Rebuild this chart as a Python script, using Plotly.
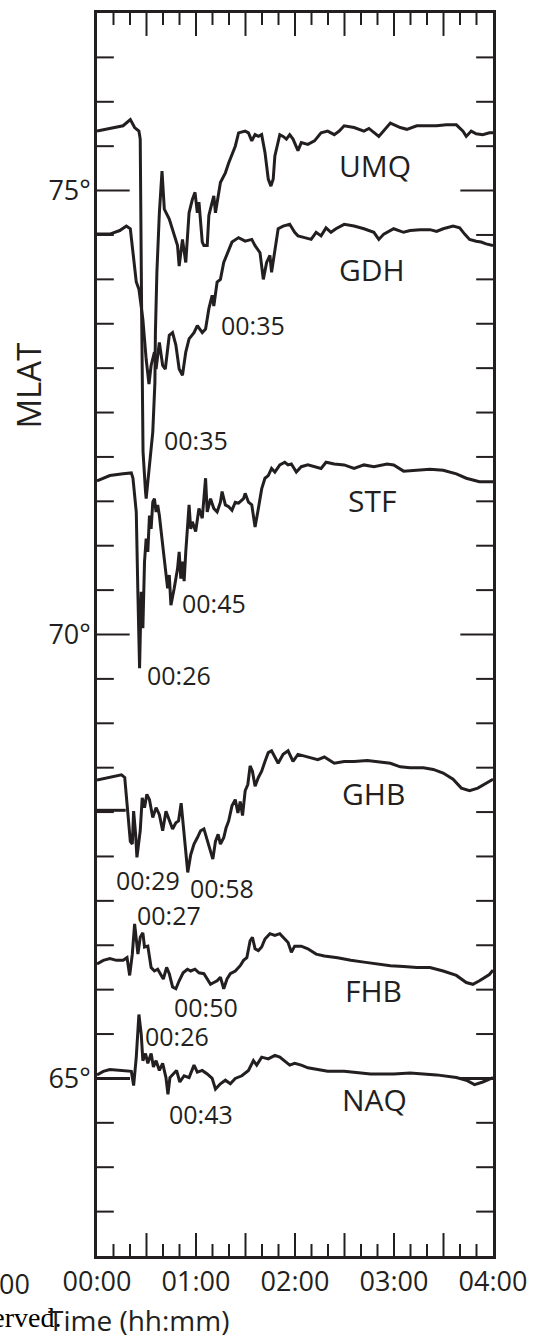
import plotly.graph_objects as go

# ---------------- data (time in minutes after 00:00, MLAT in degrees) ----------------
UMQ_t = [0, 7.8, 15.8, 20.2, 22.8, 25.4, 26.2, 27.0, 27.9, 29.4, 29.8, 30.8, 31.8, 33.8, 35.1, 35.4, 36.3, 37.8, 39.4,
         40.8, 43.8, 45.8, 48.8, 49.8, 51.8, 53.8, 55.8, 57.8, 59.4, 60.8, 61.8, 63.8, 64.8, 66.8, 67.8, 69.8, 70.8,
         71.8, 74.8, 77.8, 79.8, 83.8, 85.8, 89.8, 91.8, 93.8, 95.8, 97.8, 99.8, 101.8, 103.8, 105.4, 106.8, 107.8,
         110.8, 112.8, 114.8, 116.8, 118.8, 121.8, 123.8, 127.8, 131.8, 135.8, 139.8, 143.8, 146.8, 149.8, 155.8,
         161.8, 164.8, 170.8, 177.8, 183.8, 187.8, 193.8, 199.8, 205.8, 211.8, 217.8, 221.8, 223.8, 226.8, 229.8,
         233.8, 237.8, 240]
UMQ_lat = [75.67, 75.70, 75.73, 75.80, 75.71, 75.67, 75.58, 73.74, 72.06, 71.61, 71.53, 71.72, 71.94, 72.28, 72.84,
           73.40, 74.08, 74.75, 75.22, 74.79, 74.68, 74.57, 74.38, 74.15, 74.45, 74.19, 74.75, 74.90, 74.98, 74.75,
           74.87, 74.42, 74.38, 74.38, 74.72, 74.87, 74.94, 74.75, 75.09, 75.20, 75.31, 75.50, 75.65, 75.67, 75.65,
           75.56, 75.63, 75.61, 75.63, 75.43, 75.13, 75.05, 75.13, 75.39, 75.63, 75.61, 75.58, 75.63, 75.58, 75.45,
           75.54, 75.52, 75.56, 75.65, 75.67, 75.63, 75.67, 75.73, 75.71, 75.67, 75.70, 75.61, 75.76, 75.71, 75.69,
           75.73, 75.73, 75.73, 75.74, 75.74, 75.67, 75.61, 75.67, 75.64, 75.63, 75.65, 75.65]

GDH_t = [0, 7.8, 13.8, 17.8, 20.2, 21.8, 22.8, 23.8, 25.4, 27.8, 29.8, 31.5, 32.8, 34.8, 35.8, 37.8, 39.8, 41.4, 43.8,
         45.8, 47.8, 49.8, 51.8, 53.8, 55.8, 58.8, 60.8, 63.8, 65.8, 67.8, 69.8, 70.8, 72.8, 74.8, 76.8, 79.8, 81.8,
         85.8, 89.8, 93.8, 95.8, 98.8, 100.8, 102.8, 104.8, 105.8, 107.8, 109.8, 112.8, 116.8, 119.8, 121.8, 125.8,
         129.8, 132.8, 135.8, 138.8, 141.8, 144.8, 149.8, 155.8, 161.8, 167.8, 170.8, 173.8, 179.8, 185.8, 189.8,
         195.8, 201.8, 205.8, 209.8, 215.8, 219.8, 222.8, 225.8, 229.8, 232.8, 235.8, 240]
GDH_lat = [74.51, 74.51, 74.55, 74.60, 74.57, 74.30, 74.08, 73.97, 73.89, 73.55, 73.10, 72.82, 73.03, 73.18, 72.99,
           73.29, 73.03, 72.99, 73.37, 73.40, 73.26, 72.99, 72.92, 73.18, 73.33, 73.40, 73.48, 73.40, 73.44, 73.67,
           73.82, 73.70, 73.97, 74.00, 74.19, 74.34, 74.42, 74.47, 74.43, 74.45, 74.38, 74.30, 74.00, 74.19, 74.27,
           74.08, 74.34, 74.57, 74.60, 74.62, 74.53, 74.49, 74.47, 74.45, 74.53, 74.49, 74.58, 74.53, 74.57, 74.62,
           74.60, 74.57, 74.53, 74.45, 74.51, 74.57, 74.53, 74.55, 74.56, 74.56, 74.54, 74.57, 74.60, 74.58, 74.51,
           74.45, 74.43, 74.42, 74.40, 74.38]

STF_t = [0, 7.8, 15.8, 20.8, 21.8, 23.8, 24.8, 25.8, 26.8, 27.8, 28.8, 29.8, 30.8, 31.8, 32.8, 33.8, 34.8, 35.8, 36.8,
         37.8, 39.8, 41.8, 42.8, 43.8, 44.8, 46.8, 48.8, 49.8, 50.8, 51.8, 52.8, 53.8, 55.8, 56.8, 57.8, 59.8, 61.8,
         63.8, 65.8, 66.8, 68.8, 70.8, 72.8, 74.8, 75.8, 77.8, 79.8, 81.8, 83.8, 85.8, 88.8, 89.8, 91.8, 93.8, 95.8,
         97.8, 99.8, 101.8, 103.8, 105.8, 107.8, 110.8, 113.8, 115.8, 117.8, 120.8, 123.8, 127.8, 131.8, 135.8, 138.8,
         143.8, 149.8, 155.8, 161.8, 167.8, 175.8, 179.8, 185.8, 193.8, 201.8, 209.8, 217.8, 223.8, 231.8, 240]
STF_lat = [71.73, 71.79, 71.81, 71.82, 71.76, 71.38, 70.45, 69.62, 70.48, 70.07, 70.82, 71.08, 70.93, 71.34, 71.19,
           71.49, 71.53, 71.38, 71.46, 71.34, 71.01, 70.71, 70.52, 70.67, 70.33, 70.52, 70.74, 70.93, 70.63, 70.82,
           70.60, 70.93, 71.46, 71.19, 71.27, 71.16, 71.42, 71.31, 71.76, 71.38, 71.53, 71.42, 71.38, 71.49, 71.61,
           71.46, 71.44, 71.40, 71.49, 71.48, 71.53, 71.59, 71.49, 71.46, 71.21, 71.42, 71.64, 71.76, 71.79, 71.87,
           71.83, 71.91, 71.94, 71.91, 71.92, 71.83, 71.89, 71.91, 71.89, 71.87, 71.94, 71.92, 71.91, 71.87, 71.91,
           71.89, 71.92, 71.91, 71.84, 71.85, 71.86, 71.85, 71.81, 71.76, 71.72, 71.72]

GHB_t = [0, 7.8, 14.8, 16.8, 18.2, 19.4, 20.2, 21.4, 22.2, 23.4, 24.2, 25.4, 26.2, 27.4, 28.8, 30.2, 31.8, 33.8, 35.8,
         37.8, 39.8, 41.8, 43.8, 45.8, 47.8, 49.4, 51.0, 52.2, 53.8, 55.0, 56.8, 58.8, 60.8, 62.8, 64.8, 66.8, 68.8,
         70.2, 71.8, 73.4, 74.8, 76.8, 78.2, 79.8, 81.8, 83.8, 85.4, 86.8, 88.2, 89.8, 91.4, 92.8, 94.2, 95.8, 97.8,
         99.8, 101.8, 103.8, 105.8, 107.8, 109.8, 112.8, 115.8, 118.8, 121.8, 125.8, 129.8, 133.8, 137.8, 143.8,
         149.8, 155.8, 163.8, 171.8, 177.8, 183.8, 189.8, 197.8, 203.8, 209.8, 215.8, 220.8, 225.8, 230.8, 234.8,
         237.8, 240]
GHB_lat = [68.36, 68.39, 68.42, 68.39, 68.12, 67.82, 67.67, 67.64, 68.01, 67.75, 67.49, 67.67, 67.79, 68.16, 68.05,
           68.20, 68.14, 67.94, 68.05, 67.97, 67.79, 68.01, 67.90, 67.81, 67.88, 67.90, 68.10, 67.86, 67.49, 67.32,
           67.52, 67.64, 67.71, 67.79, 67.81, 67.69, 67.56, 67.47, 67.67, 67.75, 67.64, 67.71, 67.82, 67.90, 68.07,
           68.14, 67.99, 68.12, 67.96, 68.24, 68.31, 68.52, 68.46, 68.29, 68.39, 68.46, 68.57, 68.67, 68.69, 68.61,
           68.55, 68.65, 68.69, 68.57, 68.65, 68.63, 68.61, 68.59, 68.62, 68.55, 68.57, 68.57, 68.58, 68.56, 68.55,
           68.51, 68.50, 68.50, 68.48, 68.44, 68.37, 68.27, 68.24, 68.27, 68.31, 68.34, 68.37]

FHB_t = [0, 3.8, 7.8, 11.8, 15.8, 18.2, 19.8, 21.4, 22.8, 23.8, 24.8, 26.2, 27.8, 28.8, 30.8, 32.8, 34.8, 36.8, 38.8,
         40.2, 42.2, 43.8, 45.8, 47.8, 49.8, 52.2, 54.8, 56.8, 59.4, 61.8, 64.8, 66.8, 68.8, 70.8, 72.8, 74.8, 76.8,
         78.8, 80.8, 83.8, 86.8, 88.8, 90.8, 92.8, 94.2, 95.8, 97.8, 99.8, 101.8, 104.8, 107.8, 110.8, 113.8, 115.8,
         117.8, 119.8, 123.8, 127.8, 132.8, 137.8, 145.8, 153.8, 161.8, 169.8, 177.8, 185.8, 193.8, 201.8, 209.8,
         217.8, 223.8, 227.8, 231.8, 237.8, 240]
FHB_lat = [66.29, 66.33, 66.35, 66.33, 66.33, 66.36, 66.16, 66.40, 66.74, 66.59, 66.40, 66.59, 66.64, 66.48, 66.49,
           66.25, 66.21, 66.23, 66.16, 66.12, 66.25, 66.18, 66.03, 66.01, 66.10, 66.19, 66.23, 66.21, 66.23, 66.19,
           66.18, 66.12, 66.06, 66.08, 66.10, 66.14, 66.01, 66.12, 66.18, 66.21, 66.27, 66.33, 66.36, 66.55, 66.59,
           66.46, 66.44, 66.48, 66.57, 66.63, 66.61, 66.63, 66.57, 66.53, 66.42, 66.49, 66.49, 66.46, 66.40, 66.38,
           66.36, 66.33, 66.31, 66.29, 66.27, 66.26, 66.25, 66.25, 66.21, 66.16, 66.08, 66.06, 66.10, 66.17, 66.22]

NAQ_t = [0, 3.8, 7.8, 13.8, 20.8, 22.2, 23.8, 25.4, 26.8, 27.8, 29.4, 30.8, 32.8, 34.2, 35.8, 37.8, 39.8, 41.8, 43.0,
         44.2, 46.2, 48.2, 50.2, 52.8, 55.8, 58.8, 60.8, 63.8, 66.8, 69.8, 71.8, 74.8, 77.8, 80.8, 83.8, 87.8, 91.8,
         94.8, 96.8, 99.8, 103.8, 107.8, 110.8, 113.8, 116.8, 119.8, 123.8, 127.8, 132.8, 139.8, 149.8, 155.8, 165.8,
         179.8, 189.8, 205.8, 217.8, 223.8, 228.8, 233.8, 240]
NAQ_lat = [65.04, 65.08, 65.10, 65.09, 65.08, 64.92, 65.24, 65.72, 65.50, 65.20, 65.28, 65.17, 65.28, 65.13, 65.20,
           65.09, 65.17, 65.01, 64.82, 65.01, 65.05, 65.09, 64.96, 65.03, 65.01, 65.15, 65.07, 65.09, 65.05, 65.00,
           64.88, 64.94, 64.98, 64.94, 65.00, 65.03, 65.09, 65.20, 65.15, 65.24, 65.22, 65.26, 65.24, 65.20, 65.15,
           65.17, 65.15, 65.12, 65.10, 65.08, 65.08, 65.07, 65.05, 65.05, 65.06, 65.04, 65.01, 64.98, 64.93, 64.96,
           65.01]

# short reference (baseline) segments at station latitude
GHB_base_t = [0, 17.4]
GHB_base_lat = [68.02, 68.02]
NAQ_base_left_t = [0, 20]
NAQ_base_right_t = [220, 240]
NAQ_base_lat = [65.0, 65.0]

# station names and their label positions
station_names = ["UMQ", "GDH", "STF", "GHB", "FHB", "NAQ"]
station_label_t = [168.3, 166.8, 166.8, 167.4, 167.4, 168.3]
station_label_lat = [75.28, 74.11, 71.51, 68.21, 65.99, 64.76]

# time-of-minimum labels
event_text = ["00:35", "00:35", "00:45", "00:26", "00:29", "00:58", "00:27", "00:50", "00:26", "00:43"]
event_t = [94.8, 60.0, 70.8, 49.8, 31.2, 75.6, 43.8, 66.0, 48.6, 63.0]
event_lat = [73.49, 72.19, 70.36, 69.54, 67.24, 67.14, 66.84, 65.80, 65.48, 64.60]

# axis ticks
x_range = [0, 240]
y_range = [63, 77]
x_label_vals = [0, 60, 120, 180, 240]
x_label_text = ["00:00", "01:00", "02:00", "03:00", "04:00"]
x_major_step = 30      # long ticks
x_minor_step = 10      # short ticks
y_label_vals = [65, 70, 75]
y_label_text = ["65°", "70°", "75°"]
y_minor_step = 0.5     # short ticks (long ticks at the labelled values)

# ---------------- figure ----------------
INK = "#231f20"
FONT = "Open Sans"
LW = 3
PLOT_W, PLOT_H = 400, 1246          # plot-area size in px (figure size minus margins)
X_LONG, X_SHORT = 23, 12            # tick lengths in px
Y_LONG, Y_SHORT = 33, 17

fig = go.Figure()
series = [(UMQ_t, UMQ_lat), (GDH_t, GDH_lat), (STF_t, STF_lat), (GHB_t, GHB_lat), (FHB_t, FHB_lat),
          (NAQ_t, NAQ_lat), (GHB_base_t, GHB_base_lat), (NAQ_base_left_t, NAQ_base_lat),
          (NAQ_base_right_t, NAQ_base_lat)]
for tt, ll in series:
    fig.add_trace(go.Scatter(x=tt, y=ll, mode="lines", line=dict(color=INK, width=LW),
                             showlegend=False, hoverinfo="skip"))

for name, tx, ly in zip(station_names, station_label_t, station_label_lat):
    fig.add_annotation(x=tx, y=ly, xref="x", yref="y", text=name, showarrow=False,
                       font=dict(family=FONT, size=30, color=INK), xanchor="center", yanchor="middle")

for txt, tx, ly in zip(event_text, event_t, event_lat):
    fig.add_annotation(x=tx, y=ly, xref="x", yref="y", text=txt, showarrow=False,
                       font=dict(family=FONT, size=25, color=INK), xanchor="center", yanchor="middle")

# axis titles and cropped fragments from the neighbouring panel
fig.add_annotation(x=-0.1725, y=0.70, xref="paper", yref="paper", text="MLAT", textangle=-90,
                   showarrow=False, font=dict(family=FONT, size=33, color=INK),
                   xanchor="center", yanchor="middle")
fig.add_annotation(x=-0.085, y=-0.0495, xref="paper", yref="paper", text="All rights reserved.",
                   showarrow=False, font=dict(family="Liberation Serif", size=28, color="#000000"),
                   xanchor="right", yanchor="middle")
fig.add_annotation(x=0.105, y=-0.0515, xref="paper", yref="paper", text="Time (hh:mm)",
                   showarrow=False, font=dict(family=FONT, size=28, color=INK),
                   xanchor="center", yanchor="middle")
fig.add_annotation(x=-0.165, y=-0.0218, xref="paper", yref="paper", text="04:00",
                   showarrow=False, font=dict(family=FONT, size=27, color=INK),
                   xanchor="right", yanchor="middle")

# inward tick marks on all four sides (long and short), positioned by the axis scales
tick_line = dict(color=INK, width=2)


def steps(start, stop, step):
    vals, k = [], 1
    while start + k * step < stop - 1e-9:
        vals.append(round(start + k * step, 6))
        k += 1
    return vals


for v in steps(x_range[0], x_range[1], x_minor_step):
    length = X_LONG if abs((v - x_range[0]) % x_major_step) < 1e-9 else X_SHORT
    f = length / PLOT_H
    fig.add_shape(type="line", xref="x", yref="paper", x0=v, x1=v, y0=0, y1=f, line=tick_line, layer="above")
    fig.add_shape(type="line", xref="x", yref="paper", x0=v, x1=v, y0=1, y1=1 - f, line=tick_line, layer="above")

for v in steps(y_range[0], y_range[1], y_minor_step):
    length = Y_LONG if v in y_label_vals else Y_SHORT
    f = length / PLOT_W
    fig.add_shape(type="line", xref="paper", yref="y", x0=0, x1=f, y0=v, y1=v, line=tick_line, layer="above")
    fig.add_shape(type="line", xref="paper", yref="y", x0=1, x1=1 - f, y0=v, y1=v, line=tick_line, layer="above")

fig.update_layout(
    width=537, height=1342, margin=dict(l=97, r=40, t=10, b=86),
    paper_bgcolor="white", plot_bgcolor="white", showlegend=False,
    xaxis=dict(range=x_range, tickmode="array", tickvals=x_label_vals, ticktext=x_label_text,
               ticks="", showline=True, linewidth=2.5, linecolor=INK, mirror=True,
               showgrid=False, zeroline=False, ticklabelstandoff=0,
               tickfont=dict(family=FONT, size=27, color=INK)),
    yaxis=dict(range=y_range, tickmode="array", tickvals=y_label_vals, ticktext=y_label_text,
               ticks="", showline=True, linewidth=2.5, linecolor=INK, mirror=True,
               showgrid=False, zeroline=False, ticklabelstandoff=-2,
               tickfont=dict(family=FONT, size=27, color=INK)),
)

fig.write_html("out.html", config={"displayModeBar": False},
               post_script="document.body.style.margin='0px';")
